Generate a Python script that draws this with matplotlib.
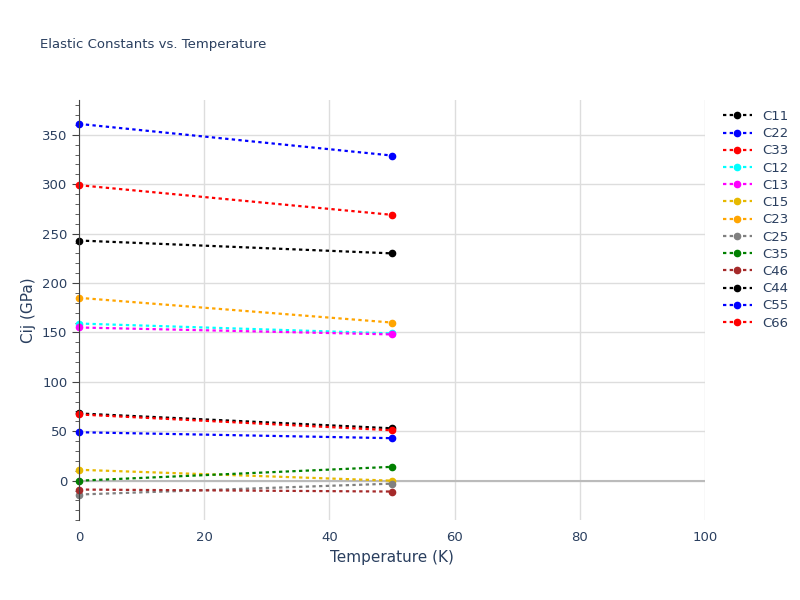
import matplotlib
matplotlib.use("Agg")
import matplotlib.pyplot as plt
from matplotlib.ticker import MultipleLocator

# data
TEMPS = [0, 50]
NAMES = ["C11", "C22", "C33", "C12", "C13", "C15", "C23", "C25", "C35", "C46", "C44", "C55", "C66"]
COLORS = ["black", "blue", "red", "cyan", "magenta", "#e6b800", "orange", "gray", "green", "brown",
          "black", "blue", "red"]
C11 = [243, 230]
C22 = [361, 329]
C33 = [299, 269]
C12 = [159, 149]
C13 = [155, 148]
C15 = [11, 0]
C23 = [185, 160]
C25 = [-14, -3]
C35 = [0, 14]
C46 = [-9, -11]
C44 = [68, 53]
C55 = [49, 43]
C66 = [67, 51]
VALUES = [C11, C22, C33, C12, C13, C15, C23, C25, C35, C46, C44, C55, C66]

TXT = "#2a3f5f"
fig = plt.figure(figsize=(8, 6), dpi=100)
ax = fig.add_axes([0.099, 0.133, 0.782, 0.70])

for name, col, vals in zip(NAMES, COLORS, VALUES):
    ax.plot(TEMPS, vals, linestyle=(0, (1.5, 1.5)), linewidth=1.6, color=col,
            marker="o", markersize=4.5, label=name, clip_on=False)

ax.set_xlim(0, 100)
ax.set_ylim(-40, 385)
ax.xaxis.set_major_locator(MultipleLocator(20))
ax.yaxis.set_major_locator(MultipleLocator(50))
ax.yaxis.set_minor_locator(MultipleLocator(10))
ax.grid(True, color="#dddddd", linewidth=1)
ax.axhline(0, color="#bbbbbb", linewidth=1.5, zorder=1)
ax.set_axisbelow(True)
for s in ["top", "right", "bottom"]:
    ax.spines[s].set_visible(False)
ax.spines["left"].set_color("#444444")
ax.tick_params(axis="both", colors=TXT, labelsize=9.5)
ax.tick_params(axis="x", length=0, pad=8)
ax.tick_params(axis="y", which="major", length=5, color="#444444")
ax.tick_params(axis="y", which="minor", length=3, color="#444444")
ax.set_xlabel("Temperature (K)", color=TXT, fontsize=11)
ax.set_ylabel("Cij (GPa)", color=TXT, fontsize=11)

fig.text(0.05, 0.92, "Elastic Constants vs. Temperature", color=TXT, fontsize=9.5)
leg = ax.legend(loc="upper left", bbox_to_anchor=(1.01, 1.005), frameon=False,
                fontsize=9.5, handlelength=2.2, labelspacing=0.32)
for t in leg.get_texts():
    t.set_color(TXT)

fig.savefig("out.png", dpi=100)
